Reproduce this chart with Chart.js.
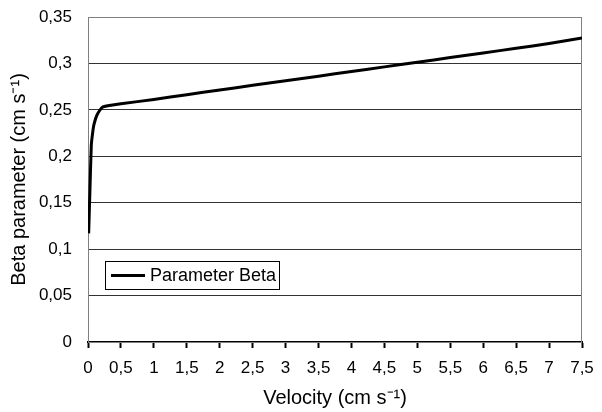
<!DOCTYPE html>
<html>
<head>
<meta charset="utf-8">
<script src="https://cdn.jsdelivr.net/npm/chart.js@4.4.1/dist/chart.umd.min.js"></script>
<style>
  html, body { margin: 0; padding: 0; background: #ffffff; }
  #wrap { width: 602px; height: 412px; position: relative; }
</style>
</head>
<body>
<div id="wrap"><canvas id="c"></canvas></div>
<script>
const seriesLabel = "Parameter Beta";
const velocity = [0.01, 0.03, 0.05, 0.07, 0.09, 0.14, 0.22, 0.5, 1, 1.5, 2, 2.5, 3, 3.5, 4, 4.5, 5, 5.5, 6, 6.5, 7, 7.5];
const beta = [0.117, 0.165, 0.212, 0.225, 0.234, 0.245, 0.253, 0.2565, 0.2612, 0.2663, 0.2714, 0.2764, 0.2814, 0.2863, 0.2913, 0.2963, 0.3013, 0.3063, 0.3113, 0.3163, 0.3215, 0.3275];
const xTitle = "Velocity (cm s\u207B\u00B9)";
const yTitle = "Beta parameter (cm s\u207B\u00B9)";
const xMin = 0, xMax = 7.5, xStep = 0.5;
const yMin = 0, yMax = 0.35, yStep = 0.05;

const fmt = v => String(Math.round(v * 100) / 100).replace('.', ',');
const FAMILY = '"Liberation Sans", Arial, sans-serif';

const framePlugin = {
  id: 'frame',
  beforeDatasetsDraw(chart) {
    const { ctx, chartArea: a } = chart;
    ctx.save();
    ctx.strokeStyle = '#808080';
    ctx.lineWidth = 1;
    ctx.strokeRect(a.left + 0.5, a.top + 0.5, a.right - a.left - 1, a.bottom - a.top);
    ctx.restore();
  },
  afterDatasetsDraw(chart) {
    const { ctx } = chart;
    const ds = chart.data.datasets[0];
    const x0 = 105, y0 = 261, w = 174, h = 28;
    ctx.save();
    ctx.fillStyle = '#ffffff';
    ctx.fillRect(x0, y0, w, h);
    ctx.strokeStyle = '#000000';
    ctx.lineWidth = 1;
    ctx.strokeRect(x0 + 0.5, y0 + 0.5, w, h);
    ctx.lineWidth = 3;
    ctx.beginPath();
    ctx.moveTo(x0 + 6, y0 + 14.5);
    ctx.lineTo(x0 + 40, y0 + 14.5);
    ctx.stroke();
    ctx.fillStyle = '#000000';
    ctx.font = '18px ' + FAMILY;
    ctx.textBaseline = 'middle';
    ctx.fillText(ds.label, x0 + 45, y0 + 15);
    ctx.restore();
  }
};

const tickFont = { family: FAMILY, size: 17 };
const titleFont = { family: FAMILY, size: 20 };

new Chart(document.getElementById('c'), {
  type: 'line',
  data: {
    datasets: [{
      label: seriesLabel,
      data: velocity.map((v, i) => ({ x: v, y: beta[i] })),
      borderColor: '#000000',
      borderWidth: 3,
      pointRadius: 0,
      tension: 0.15,
      fill: false
    }]
  },
  options: {
    responsive: true,
    maintainAspectRatio: false,
    animation: false,
    layout: { padding: { top: 17, right: 20, left: 0, bottom: 0 } },
    plugins: { legend: { display: false }, tooltip: { enabled: false } },
    scales: {
      x: {
        type: 'linear',
        min: xMin, max: xMax,
        afterFit: s => { s.height = 70; s.paddingLeft = 0; s.paddingRight = 0; },
        ticks: { stepSize: xStep, color: '#000', font: tickFont, padding: 10, maxRotation: 0, autoSkip: false, callback: v => fmt(v) },
        grid: { drawOnChartArea: false, drawTicks: true, tickLength: 6, tickColor: '#000', tickWidth: 2 },
        border: { color: '#000', width: 2 },
        title: { display: true, text: xTitle, color: '#000', font: titleFont, padding: { top: 4, bottom: 2 } }
      },
      y: {
        min: yMin, max: yMax,
        afterFit: s => { s.width = 88; s.paddingTop = 0; s.paddingBottom = 0; },
        ticks: { stepSize: yStep, color: '#000', font: tickFont, padding: 16, callback: v => fmt(v) },
        grid: { color: '#333333', lineWidth: 1, drawTicks: false },
        border: { color: '#808080', width: 1 },
        title: { display: true, text: yTitle, color: '#000', font: titleFont, padding: { top: 7, bottom: 0 } }
      }
    }
  },
  plugins: [framePlugin]
});
</script>
</body>
</html>
